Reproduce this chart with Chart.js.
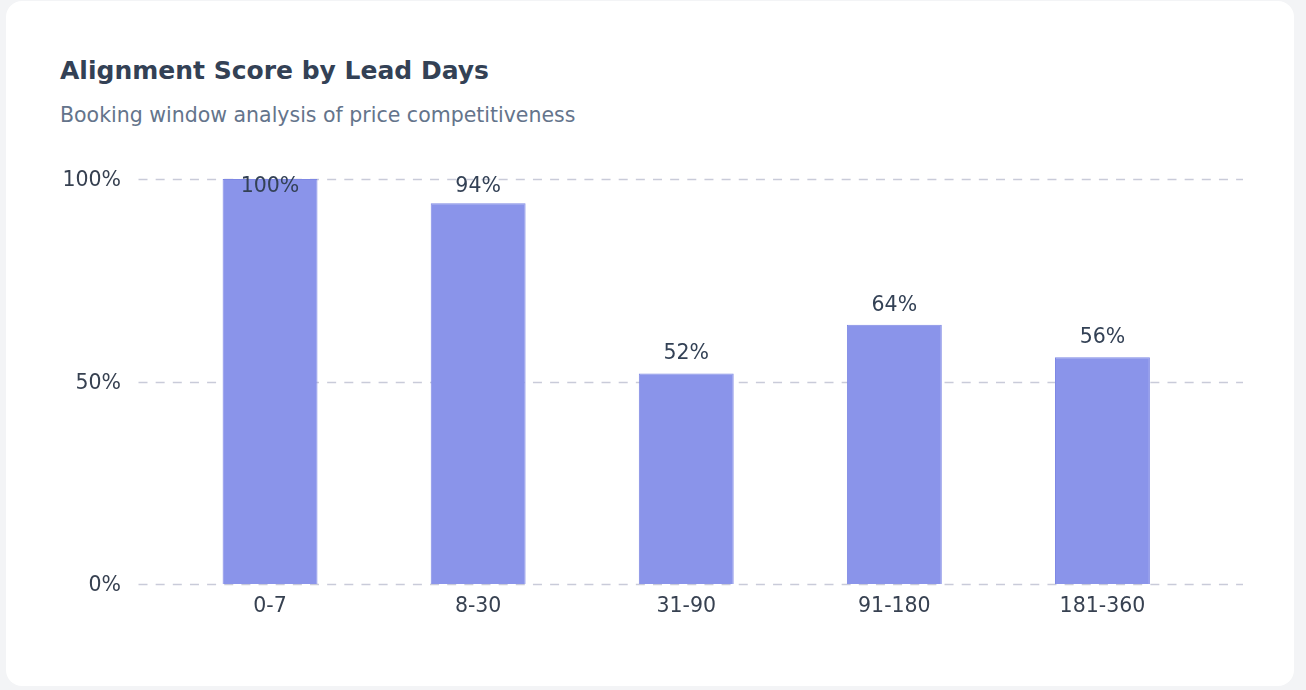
<!DOCTYPE html>
<html>
<head>
<meta charset="utf-8">
<script src="https://cdn.jsdelivr.net/npm/chart.js@4.4.0/dist/chart.umd.min.js"></script>
<style>
  html, body { margin: 0; padding: 0; }
  body { width: 1306px; height: 690px; background: #f3f4f6; font-family: "DejaVu Sans", sans-serif; position: relative; overflow: hidden; }
  .card { position: absolute; left: 6px; top: 1px; width: 1288px; height: 685px; background: #fff; border-radius: 16px; }
  h1 { position: absolute; left: 54px; top: 55px; margin: 0; font-size: 25px; font-weight: bold; color: #334155; line-height: 30px; white-space: nowrap; }
  .sub { position: absolute; left: 54px; top: 101px; margin: 0; font-size: 20.5px; color: #64748b; line-height: 26px; white-space: nowrap; }
  #wrap { position: absolute; left: 34px; top: 149px; width: 1230px; height: 500px; }
</style>
</head>
<body>
<div class="card">
  <h1>Alignment Score by Lead Days</h1>
  <p class="sub">Booking window analysis of price competitiveness</p>
  <div id="wrap"><canvas id="chart"></canvas></div>
</div>
<script>
var leadDays = ["0-7", "8-30", "31-90", "91-180", "181-360"];
var alignmentScore = [100, 94, 52, 64, 56];
var yTicks = [0, 50, 100];

// dashed grid lines, a bit wider than the plot area
var gridLines = {
  id: "gridLines",
  beforeDatasetsDraw: function (chart) {
    var ctx = chart.ctx, area = chart.chartArea, y = chart.scales.y;
    ctx.save();
    ctx.strokeStyle = "#c9cbd9";
    ctx.lineWidth = 1.5;
    ctx.setLineDash([9, 8.15]);
    yTicks.forEach(function (v) {
      var py = Math.round(y.getPixelForValue(v)) + 0.5;
      ctx.beginPath();
      ctx.moveTo(area.left - 27.5, py);
      ctx.lineTo(area.right + 36.5, py);
      ctx.stroke();
    });
    ctx.restore();
  }
};

// value labels above each bar
var valueLabels = {
  id: "valueLabels",
  afterDatasetsDraw: function (chart) {
    var ctx = chart.ctx, area = chart.chartArea;
    var meta = chart.getDatasetMeta(0);
    ctx.save();
    ctx.font = "20.5px 'DejaVu Sans'";
    ctx.fillStyle = "#334155";
    ctx.textAlign = "center";
    ctx.textBaseline = "middle";
    meta.data.forEach(function (bar, i) {
      var ty = Math.max(bar.y - 19.5, area.top + 7.5);
      ctx.fillText(alignmentScore[i] + "%", bar.x, ty);
    });
    ctx.restore();
  }
};

new Chart(document.getElementById("chart"), {
  type: "bar",
  data: {
    labels: leadDays,
    datasets: [{
      label: "Alignment Score",
      data: alignmentScore,
      backgroundColor: "#8a94ea",
      borderColor: "#7e88e4",
      borderWidth: 1,
      categoryPercentage: 1,
      barPercentage: 0.456
    }]
  },
  options: {
    responsive: true,
    maintainAspectRatio: false,
    animation: false,
    layout: { padding: { left: 0, right: 63.5, top: 29, bottom: 26 } },
    plugins: { legend: { display: false }, tooltip: { enabled: false } },
    scales: {
      x: {
        grid: { display: false, drawTicks: false },
        border: { display: false },
        ticks: { color: "#374151", font: { family: "DejaVu Sans", size: 20.5 }, padding: 10 },
        afterFit: function (s) { s.height = 40; }
      },
      y: {
        min: 0,
        max: 100,
        grid: { display: false, drawTicks: false },
        border: { display: false },
        afterBuildTicks: function (s) { s.ticks = yTicks.map(function (v) { return { value: v }; }); },
        ticks: {
          color: "#374151",
          font: { family: "DejaVu Sans", size: 20.5 },
          padding: 45,
          labelOffset: 2,
          callback: function (v) { return v + "%"; }
        },
        afterFit: function (s) { s.width = 126; s.paddingTop = 0; s.paddingBottom = 0; }
      }
    }
  },
  plugins: [gridLines, valueLabels]
});
</script>
</body>
</html>
